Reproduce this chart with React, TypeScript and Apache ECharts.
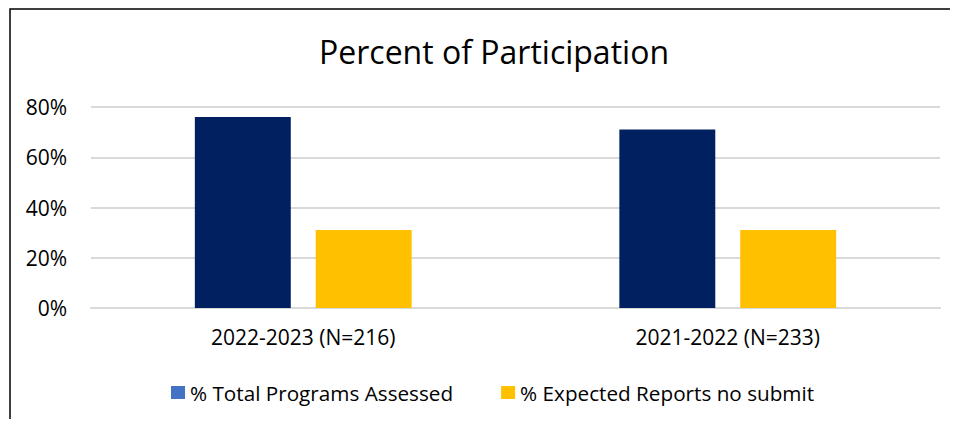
import React, { useEffect, useRef } from "react";
import * as echarts from "echarts";

const categories = ["2022-2023 (N=216)", "2021-2022 (N=233)"];
const seriesNames = ["% Total Programs Assessed", "% Expected Reports no submit"];
const assessed = [76, 71];
const noSubmit = [31, 31];
const yTicks = [0, 20, 40, 60, 80];

const FONT = "'Open Sans', 'Noto Sans', sans-serif";

export default function App() {
  const ref = useRef<HTMLDivElement>(null);
  useEffect(() => {
    if (!ref.current) return;
    const chart = echarts.init(ref.current, undefined, { renderer: "svg" });
    chart.setOption({
      animation: false,
      backgroundColor: "#ffffff",
      textStyle: { fontFamily: FONT },
      title: {
        text: "Percent of Participation",
        left: 489,
        textAlign: "center",
        top: 30,
        textStyle: { fontFamily: FONT, fontSize: 32, fontWeight: "normal", color: "#000" },
      },
      grid: { left: 91, right: 18, top: 107, bottom: 119, containLabel: false },
      legend: {
        bottom: 19,
        left: 166,
        itemWidth: 14,
        itemHeight: 13,
        itemGap: 48,
        icon: "rect",
        textStyle: { fontFamily: FONT, fontSize: 20.7, color: "#000" },
        data: [
          { name: seriesNames[0], itemStyle: { color: "#4472C4" } },
          { name: seriesNames[1], itemStyle: { color: "#FFC000" } },
        ],
      },
      xAxis: {
        type: "category",
        data: categories,
        axisLine: { show: true, lineStyle: { color: "#d9d9d9", width: 2 } },
        axisTick: { show: false },
        axisLabel: { fontFamily: FONT, fontSize: 21, color: "#000", margin: 18 },
      },
      yAxis: {
        type: "value",
        min: yTicks[0],
        max: yTicks[yTicks.length - 1],
        interval: 20,
        axisLine: { show: false },
        axisTick: { show: false },
        splitLine: { lineStyle: { color: "#d9d9d9", width: 2 } },
        axisLabel: {
          fontFamily: FONT,
          fontSize: 21,
          color: "#000",
          margin: 24,
          formatter: (v: number) => v + "%",
        },
      },
      series: [
        {
          name: seriesNames[0],
          type: "bar",
          data: assessed,
          barWidth: "22.6%",
          barGap: "26%",
          itemStyle: { color: "#002060" },
        },
        {
          name: seriesNames[1],
          type: "bar",
          data: noSubmit,
          barWidth: "22.6%",
          itemStyle: { color: "#FFC000" },
        },
      ],
      graphic: [
        {
          type: "rect",
          shape: { x: 10, y: 9, width: 1200, height: 1000 },
          style: { fill: "none", stroke: "#000", lineWidth: 1.5 },
          silent: true,
        },
      ],
    });
    return () => chart.dispose();
  }, []);
  return (
    <div
      ref={ref}
      style={{ width: 958, height: 427, margin: -8, position: "relative" }}
    />
  );
}
